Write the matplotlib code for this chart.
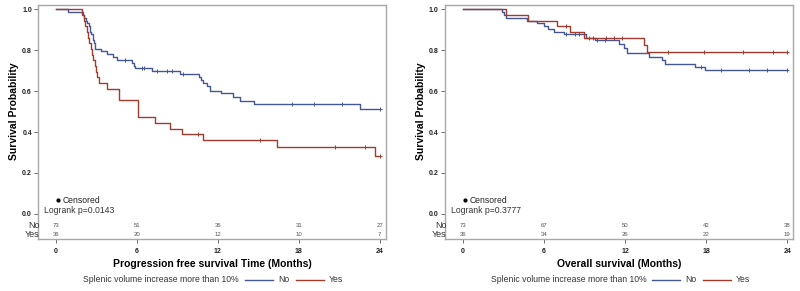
"""Kaplan-Meier curves (PFS and OS) by splenic volume increase, with numbers at risk."""
import matplotlib.pyplot as plt
import numpy as np

plt.rcParams['font.family'] = ['Liberation Sans', 'DejaVu Sans']

BLUE = '#445694'
RED = '#A23A2E'
FRAME = '#a8a8a8'

# progression free survival, group "No"
pfs_no_t = [0, 0.9, 2.0, 2.1, 2.2, 2.3, 2.4, 2.5, 2.6, 2.7, 2.8, 2.9, 3.3, 3.8, 4.2, 4.5,
            5.65, 5.75, 5.85, 7.1, 9.2, 10.6, 10.75, 10.9, 11.2, 11.4, 12.2, 13.1, 13.6, 14.7, 22.55]
pfs_no_s = [1.0, 0.986, 0.973, 0.959, 0.945, 0.932, 0.918, 0.890, 0.877, 0.849, 0.836, 0.808, 0.795,
            0.781, 0.767, 0.753, 0.739, 0.725, 0.711, 0.697, 0.683, 0.669, 0.655, 0.641, 0.627, 0.603,
            0.589, 0.570, 0.553, 0.536, 0.513]
pfs_no_cens = [5.1, 6.35, 6.5, 7.45, 8.2, 8.57, 9.4, 17.5, 19.1, 21.2, 24.0]

# progression free survival, group "Yes"
pfs_yes_t = [0, 1.9, 2.05, 2.15, 2.25, 2.35, 2.45, 2.55, 2.65, 2.75, 2.85, 2.95, 3.05, 3.2,
             3.75, 4.65, 6.05, 7.33, 8.44, 9.3, 10.9, 16.4, 23.68]
pfs_yes_s = [1.0, 0.972, 0.944, 0.917, 0.889, 0.861, 0.833, 0.806, 0.778, 0.750, 0.722, 0.694, 0.667,
             0.639, 0.611, 0.556, 0.472, 0.444, 0.417, 0.389, 0.359, 0.327, 0.285]
pfs_yes_cens = [10.5, 15.1, 20.67, 22.9, 24.0]

# overall survival, group "No"
os_no_t = [0, 2.85, 3.0, 3.15, 4.74, 5.5, 6.0, 6.3, 6.7, 7.45, 9.07, 9.8, 11.53, 11.9, 12.15,
           13.75, 14.74, 14.98, 17.2, 17.9]
os_no_s = [1.0, 0.986, 0.973, 0.959, 0.945, 0.931, 0.918, 0.904, 0.890, 0.877, 0.862, 0.848, 0.832,
           0.810, 0.785, 0.768, 0.750, 0.734, 0.718, 0.701]
os_no_cens = [7.6, 8.3, 8.6, 9.9, 10.5, 17.6, 19.1, 21.2, 22.5, 24.0]

# overall survival, group "Yes"
os_yes_t = [0, 3.2, 4.8, 6.96, 7.95, 8.94, 13.38, 13.6]
os_yes_s = [1.0, 0.972, 0.944, 0.917, 0.889, 0.861, 0.827, 0.793]
os_yes_cens = [7.63, 9.36, 9.6, 10.56, 11.16, 11.78, 15.2, 17.8, 20.7, 22.96, 24.0]

risk_times = [0, 6, 12, 18, 24]
pfs_risk_no = [73, 51, 36, 31, 27]
pfs_risk_yes = [36, 20, 12, 10, 7]
os_risk_no = [73, 67, 50, 42, 38]
os_risk_yes = [36, 34, 26, 22, 19]


def draw_curve(ax, times, surv, cens, color):
    times = np.append(times, 24.0)
    surv = np.append(surv, surv[-1])
    ax.step(times, surv, where='post', color=color, lw=1.0)
    idx = np.searchsorted(times, cens, side='right') - 1
    ax.plot(cens, surv[idx], ls='none', marker='+', ms=2.5, mew=0.7, color=color)


def draw_panel(ax, curves, risk_no, risk_yes, xlabel, pvalue):
    for times, surv, cens, color in curves:
        draw_curve(ax, times, surv, cens, color)

    ax.set_xlim(-1.33, 24.45)
    ax.set_ylim(-0.124, 1.02)
    ax.set_xticks(risk_times)
    ax.set_yticks([0.0, 0.2, 0.4, 0.6, 0.8, 1.0])
    ax.set_yticklabels(['0.0', '0.2', '0.4', '0.6', '0.8', '1.0'])
    for spine in ax.spines.values():
        spine.set_color(FRAME)
        spine.set_linewidth(1.0)
    ax.tick_params(axis='both', length=3, width=0.6, color='#555555', pad=1.5)
    ax.tick_params(axis='x', pad=3.5)
    for lab in ax.get_xticklabels() + ax.get_yticklabels():
        lab.set_fontsize(5)
        lab.set_fontweight('bold')
        lab.set_color('#222222')

    for t, n_no, n_yes in zip(risk_times, risk_no, risk_yes):
        ax.text(t, -0.059, str(n_no), ha='center', va='center', fontsize=4.3, color='#555555')
        ax.text(t, -0.101, str(n_yes), ha='center', va='center', fontsize=4.3, color='#555555')
    blend = ax.get_yaxis_transform()
    ax.text(0.004, -0.059, 'No', transform=blend, ha='right', va='center', fontsize=6.5, color='#333333')
    ax.text(0.004, -0.101, 'Yes', transform=blend, ha='right', va='center', fontsize=6.5, color='#333333')

    ax.plot([0.058], [0.066], marker='o', ms=2, color='black', transform=blend, ls='none')
    ax.text(0.07, 0.066, 'Censored', transform=blend, ha='left', va='center', fontsize=6.2, color='#222222')
    ax.text(0.017, 0.018, f'Logrank p={pvalue}', transform=blend, ha='left', va='center',
            fontsize=6.2, color='#333333')

    ax.text(-0.07, 0.5, 'Survival Probability', transform=blend, rotation=90, ha='center',
            va='center', fontsize=7.5, fontweight='bold')
    ax.set_xlabel(xlabel, fontsize=7.5, fontweight='bold', labelpad=3)


fig = plt.figure(figsize=(8, 2.91), dpi=100)
ax1 = fig.add_axes([0.0478, 0.1780, 0.4345, 0.8041])
ax2 = fig.add_axes([0.5563, 0.1780, 0.4354, 0.8041])

draw_panel(ax1, [(pfs_no_t, pfs_no_s, pfs_no_cens, BLUE), (pfs_yes_t, pfs_yes_s, pfs_yes_cens, RED)],
           pfs_risk_no, pfs_risk_yes, 'Progression free survival Time (Months)', '0.0143')
draw_panel(ax2, [(os_no_t, os_no_s, os_no_cens, BLUE), (os_yes_t, os_yes_s, os_yes_cens, RED)],
           os_risk_no, os_risk_yes, 'Overall survival (Months)', '0.3777')

# group legends under each panel
for x0 in [83, 491]:
    fig.text(x0 / 800, 1 - 280 / 291, 'Splenic volume increase more than 10%', ha='left', va='center',
             fontsize=6.2, color='#333333')
    off = 162 if x0 == 83 else 161
    y = 1 - 280 / 291
    fig.add_artist(plt.Line2D([(x0 + off) / 800, (x0 + off + 28) / 800], [y, y], color=BLUE, lw=1.0))
    fig.text((x0 + off + 33) / 800, y, 'No', ha='left', va='center', fontsize=6.2, color='#333333')
    fig.add_artist(plt.Line2D([(x0 + off + 51) / 800, (x0 + off + 79) / 800], [y, y], color=RED, lw=1.0))
    fig.text((x0 + off + 84) / 800, y, 'Yes', ha='left', va='center', fontsize=6.2, color='#333333')

fig.savefig('out.png', dpi=100)
